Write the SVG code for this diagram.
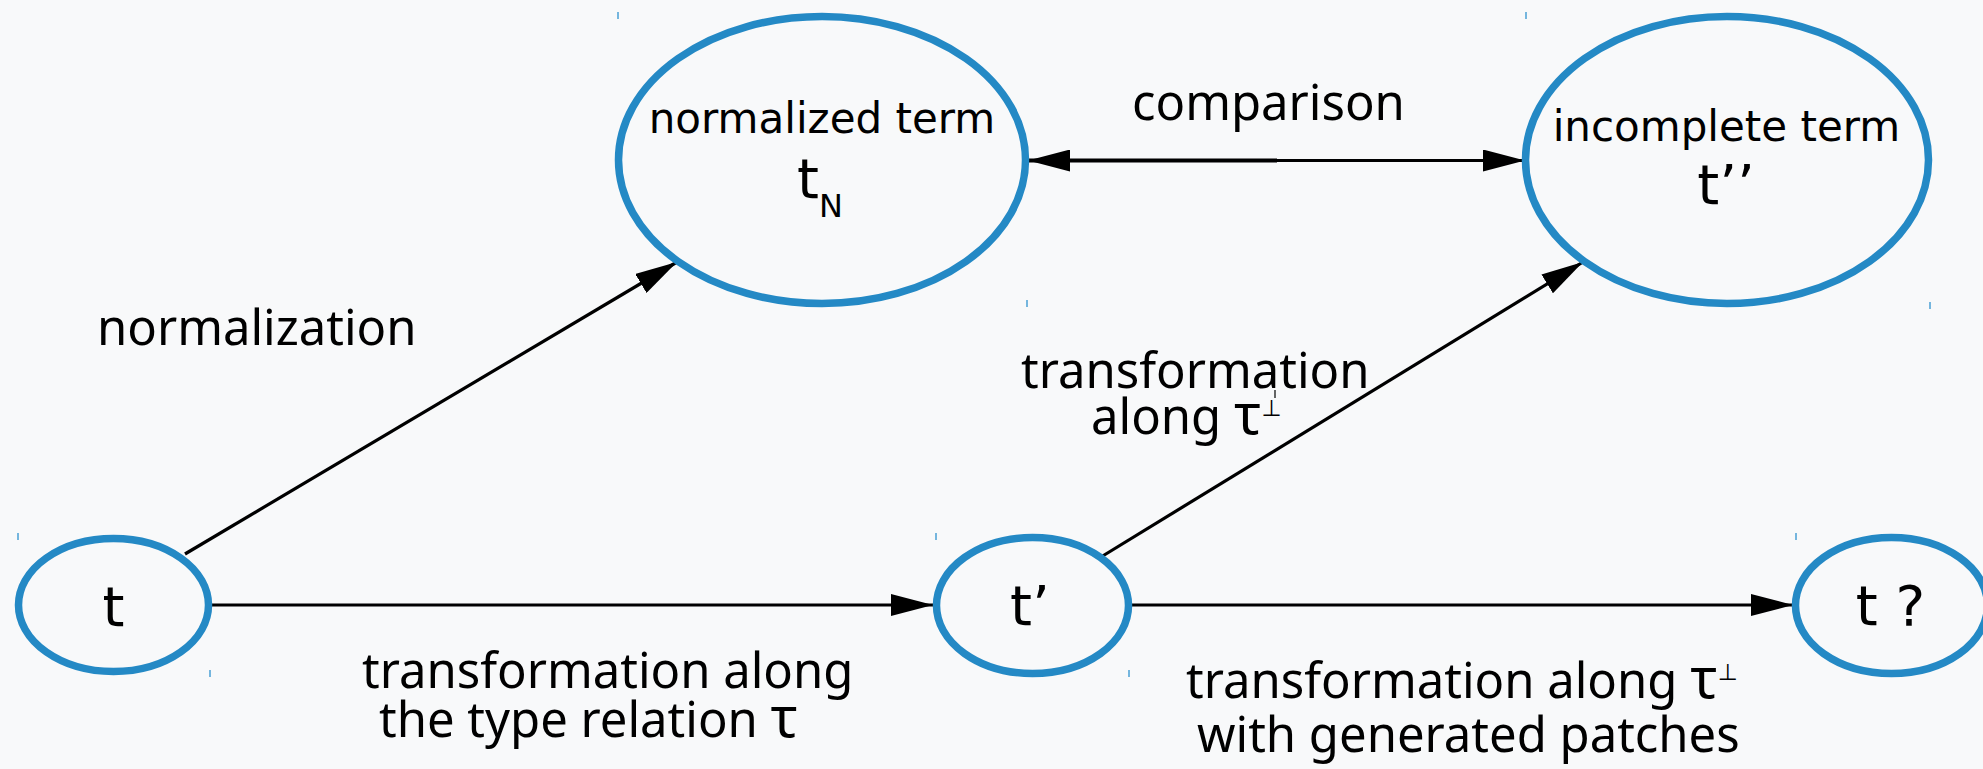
<svg xmlns="http://www.w3.org/2000/svg" width="1983" height="769" viewBox="0 0 1983 769">
  <defs>
    <marker id="arrow" viewBox="0 0 42 22" refX="42" refY="11" markerWidth="42" markerHeight="22" markerUnits="userSpaceOnUse" orient="auto">
      <path d="M0,0 L42,11 L0,22 z" fill="#000"/>
    </marker>
  </defs>
  <style>
    .node { fill: none; stroke: #2489c5; stroke-width: 7.5; }
    .ntext { font-family: "DejaVu Sans", sans-serif; fill: #000; }
    .label { font-family: "Noto Sans", "Open Sans", sans-serif; font-size: 49px; fill: #000; }
    .edge { stroke: #000; stroke-width: 3.2; fill: none; marker-end: url(#arrow); }
    .tick { stroke: #4a9fd4; stroke-width: 1.5; }
    .tau { font-size: 56px; }
    .perp { font-family: "DejaVu Sans", sans-serif; font-size: 23px; }
  </style>
  <rect width="1983" height="769" fill="#f8f9fa"/>

  <!-- connectors -->
  <g id="connectors">
    <line class="edge" x1="185" y1="554" x2="677" y2="262"/>
    <line class="edge" x1="1101" y1="557" x2="1583" y2="262"/>
    <line class="edge" x1="212" y1="605" x2="933" y2="605"/>
    <line class="edge" x1="1132" y1="605" x2="1793" y2="605"/>
    <line class="edge" x1="1277" y1="160.5" x2="1028" y2="160.5" style="stroke-width:3.8"/>
    <line class="edge" x1="1276" y1="160.5" x2="1525" y2="160.5"/>
  </g>

  <!-- edge labels -->
  <g id="labels">
    <text class="label" x="1132" y="120" font-size="50">comparison</text>
    <text class="label" x="97" y="345" font-size="50">normalization</text>
    <text class="label" x="1021" y="388" font-size="48">transformation</text>
    <text class="label" x="1091" y="434">along <tspan class="tau">τ</tspan><tspan class="perp" dy="-18">⊥</tspan></text>
    <text class="label" x="362" y="688" font-size="47">transformation along</text>
    <text class="label" x="379" y="737">the type relation <tspan class="tau">τ</tspan></text>
    <text class="label" x="1186" y="698">transformation along <tspan class="tau">τ</tspan><tspan class="perp" dy="-18">⊥</tspan></text>
    <text class="label" x="1197" y="752" font-size="48.5">with generated patches</text>
  </g>

  <!-- nodes -->
  <g id="node-tN">
    <ellipse class="node" cx="822" cy="160" rx="203.5" ry="143.5"/>
    <text class="ntext" x="822" y="133" font-size="42" text-anchor="middle">normalized term</text>
    <text class="ntext" x="797" y="198" font-size="56">t<tspan font-size="32" dy="19">N</tspan></text>
  </g>
  <g id="node-t2">
    <ellipse class="node" cx="1727" cy="160" rx="201.5" ry="143.5"/>
    <text class="ntext" x="1726.5" y="141" font-size="42" text-anchor="middle">incomplete term</text>
    <text class="ntext" x="1726" y="204" font-size="56" text-anchor="middle">t’’</text>
  </g>
  <g id="node-t">
    <ellipse class="node" cx="113.5" cy="605" rx="95" ry="66.5"/>
    <text class="ntext" x="113.5" y="626" font-size="56" text-anchor="middle">t</text>
  </g>
  <g id="node-t1">
    <ellipse class="node" cx="1032.5" cy="605.5" rx="96" ry="68"/>
    <text class="ntext" x="1030" y="625" font-size="56" text-anchor="middle">t’</text>
  </g>
  <g id="node-tq">
    <ellipse class="node" cx="1891.5" cy="605.5" rx="96" ry="68"/>
    <text class="ntext" x="1890.5" y="625" font-size="56" text-anchor="middle">t ?</text>
  </g>

  <!-- small bounding-box marks -->
  <g id="marks">
    <line class="tick" x1="618" y1="12" x2="618" y2="19"/>
    <line class="tick" x1="1027" y1="300" x2="1027" y2="307"/>
    <line class="tick" x1="1526" y1="12" x2="1526" y2="19"/>
    <line class="tick" x1="1930" y1="302" x2="1930" y2="309"/>
    <line class="tick" x1="18" y1="533" x2="18" y2="540"/>
    <line class="tick" x1="210" y1="670" x2="210" y2="677"/>
    <line class="tick" x1="936" y1="533" x2="936" y2="540"/>
    <line class="tick" x1="1129" y1="670" x2="1129" y2="677"/>
    <line class="tick" x1="1796" y1="533" x2="1796" y2="540"/>
    <line class="tick" x1="1275" y1="390" x2="1275" y2="398" style="stroke:#000;stroke-width:1.2"/>
  </g>
</svg>
